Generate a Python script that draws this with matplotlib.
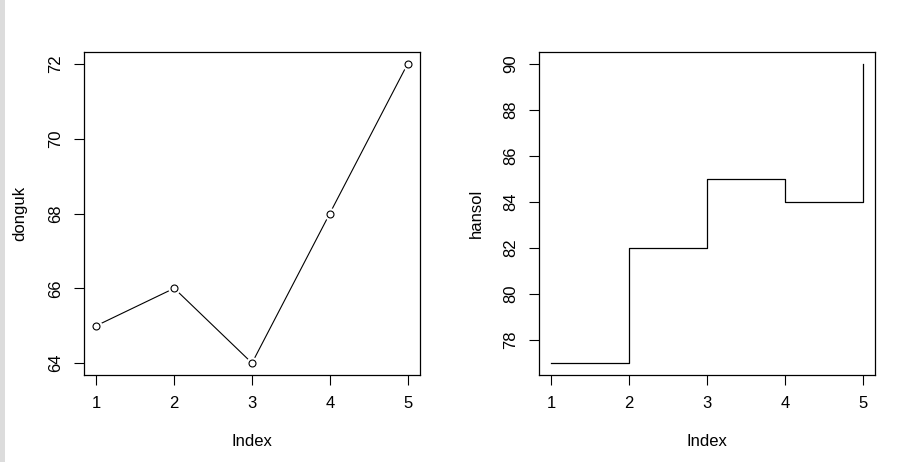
import matplotlib
matplotlib.use("Agg")
import matplotlib.pyplot as plt
from matplotlib.patches import Rectangle

# data
index = [1, 2, 3, 4, 5]
donguk = [65, 66, 64, 68, 72]
hansol = [77, 82, 85, 84, 90]

plt.rcParams['font.family'] = ['Liberation Sans', 'DejaVu Sans']
plt.rcParams['font.size'] = 12

fig = plt.figure(figsize=(9.07, 4.62), dpi=100)
# grey strip on the left edge
fig.patches.append(Rectangle((0, 0), 5 / 907, 1, transform=fig.transFigure,
                             facecolor='#dcdcdc', edgecolor='none'))

ax1 = fig.add_axes([84 / 907, 1 - 375 / 462, 336 / 907, 323 / 462])
ax2 = fig.add_axes([539 / 907, 1 - 375 / 462, 336 / 907, 323 / 462])


def r_range(vals):
    lo, hi = min(vals), max(vals)
    pad = (hi - lo) * 0.04
    return lo - pad, hi + pad


# left: type="b"
ax1.plot(index, donguk, color='black', lw=0.8, zorder=2)
ax1.plot(index, donguk, 'o', ms=9, mfc='white', mec='none', zorder=3)
ax1.plot(index, donguk, 'o', ms=5, mfc='none', mec='black', mew=0.8, zorder=4)
ax1.set_ylabel('donguk', labelpad=15)
ax1.set_yticks([64, 66, 68, 70, 72])
ax1.set_ylim(*r_range(donguk))

# right: type="s"
ax2.plot(index, hansol, color='black', lw=0.9, drawstyle='steps-post')
ax2.set_ylabel('hansol', labelpad=14)
ax2.set_yticks([78, 80, 82, 84, 86, 88, 90])
ax2.set_ylim(*r_range(hansol))

for ax in (ax1, ax2):
    ax.set_xlim(*r_range(index))
    ax.set_xticks(index)
    ax.set_xlabel('Index', labelpad=17)
    ax.tick_params(direction='out', length=7, width=0.8, pad=8, labelsize=12)
    for lab in ax.get_yticklabels():
        lab.set_rotation(90)
        lab.set_va('center')
    for s in ax.spines.values():
        s.set_linewidth(0.9)

fig.savefig('out.png', dpi=100)
